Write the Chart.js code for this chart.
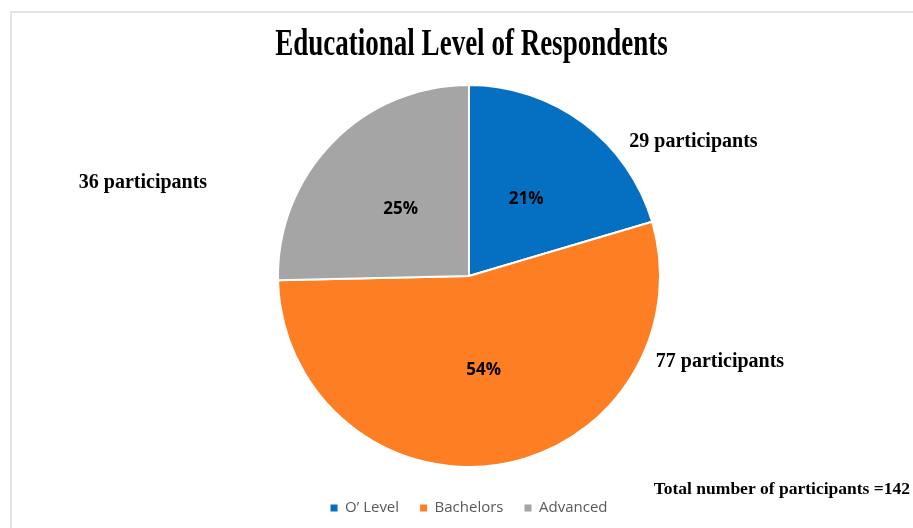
<!DOCTYPE html>
<html>
<head>
<meta charset="utf-8">
<title>Educational Level of Respondents</title>
<script src="https://cdn.jsdelivr.net/npm/chart.js@4/dist/chart.umd.min.js"></script>
<style>
  body { margin: 0; background: #fff; }
  #frame {
    position: absolute; left: 10px; top: 11px;
    width: 1200px; height: 800px;
    border: 2px solid #e3e3e3;
  }
  #pieChart { position: absolute; left: 0; top: 0; }
</style>
</head>
<body>
<div id="frame"></div>
<canvas id="pieChart" width="913" height="528"></canvas>
<script>
// data
var categories = ["O\u2019 Level", "Bachelors", "Advanced"];
var participants = [29, 77, 36];
var percentLabels = ["21%", "54%", "25%"];
var totalParticipants = 142;

var sliceColors = ["#0570C2", "#FD7E23", "#A5A5A5"];

// where the "NN participants" labels sit, in pie radii from the centre
var outerLabelSpots = [[1.175, -0.70], [1.314, 0.45], [-1.707, -0.49]];

var pieLabels = {
  id: "pieLabels",
  afterDatasetsDraw: function(chart) {
    var ctx = chart.ctx;
    var meta = chart.getDatasetMeta(0);
    ctx.save();
    ctx.textAlign = "center";
    ctx.textBaseline = "middle";
    meta.data.forEach(function(arc, i) {
      var p = arc.getProps(["x", "y", "startAngle", "endAngle", "outerRadius"], true);
      var mid = (p.startAngle + p.endAngle) / 2;

      // percentage inside the slice
      ctx.fillStyle = "#000";
      ctx.font = "bold 17px 'Open Sans'";
      ctx.fillText(percentLabels[i], p.x + Math.cos(mid) * p.outerRadius * 0.5,
                   p.y + Math.sin(mid) * p.outerRadius * 0.5);

      // participant count outside
      ctx.font = "bold 20px 'Liberation Serif'";
      ctx.fillText(participants[i] + " participants",
                   p.x + outerLabelSpots[i][0] * p.outerRadius,
                   p.y + outerLabelSpots[i][1] * p.outerRadius);
    });
    ctx.restore();
  },
  afterDraw: function(chart) {
    var ctx = chart.ctx;
    ctx.save();
    ctx.fillStyle = "#000";

    // title, squeezed like the original
    ctx.textAlign = "center";
    ctx.textBaseline = "alphabetic";
    ctx.font = "bold 37px 'Liberation Serif'";
    ctx.translate(471.5, 55);
    ctx.scale(0.73, 1);
    ctx.fillText("Educational Level of Respondents", 0, 0);
    ctx.setTransform(1, 0, 0, 1, 0, 0);

    // total note, bottom right
    ctx.textAlign = "right";
    ctx.textBaseline = "middle";
    ctx.font = "bold 17.5px 'Liberation Serif'";
    ctx.fillText("Total number of participants =" + totalParticipants, 910, 489);
    ctx.restore();
  }
};

var myChart = document.getElementById("pieChart");

var myPieChart = new Chart(myChart, {
  type: "pie",
  data: {
    labels: categories,
    datasets: [
      {
        data: participants,
        backgroundColor: sliceColors,
        borderColor: "#fff",
        borderWidth: 2
      }
    ]
  },
  options: {
    responsive: false,
    devicePixelRatio: 1,
    animation: false,
    layout: {
      padding: { left: 277, right: 252, top: 72.5, bottom: 2.5 }
    },
    plugins: {
      tooltip: { enabled: false },
      title: { display: false },
      legend: {
        position: "bottom",
        labels: {
          boxWidth: 7,
          boxHeight: 7,
          padding: 21,
          color: "#595959",
          font: { family: "'Open Sans'", size: 15 },
          generateLabels: function(chart) {
            var items = Chart.overrides.pie.plugins.legend.labels.generateLabels(chart);
            items.forEach(function(item) { item.lineWidth = 0; });
            return items;
          }
        }
      }
    }
  },
  plugins: [pieLabels]
});
</script>
</body>
</html>
